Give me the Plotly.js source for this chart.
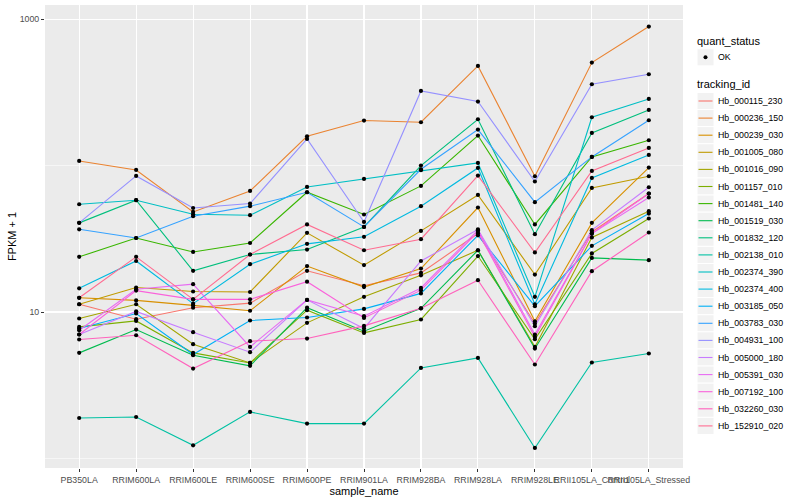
<!DOCTYPE html>
<html><head><meta charset="utf-8">
<script src="https://cdn.plot.ly/plotly-3.0.1.min.js"></script>
<style>html,body{margin:0;padding:0;background:#fff}#chart{width:800px;height:500px}</style>
</head><body><div id="chart"></div>
<script>
// ---- data ----
const samples = ["PB350LA","RRIM600LA","RRIM600LE","RRIM600SE","RRIM600PE","RRIM901LA","RRIM928BA","RRIM928LA","RRIM928LE","RRII105LA_Control","RRII105LA_Stressed"];
const trackingIds = ["Hb_000115_230","Hb_000236_150","Hb_000239_030","Hb_001005_080","Hb_001016_090","Hb_001157_010","Hb_001481_140","Hb_001519_030","Hb_001832_120","Hb_002138_010","Hb_002374_390","Hb_002374_400","Hb_003185_050","Hb_003783_030","Hb_004931_100","Hb_005000_180","Hb_005391_030","Hb_007192_100","Hb_032260_030","Hb_152910_020"];
const colors = ["#F8766D","#EA8331","#D89000","#C09B00","#A3A500","#7CAE00","#39B600","#00BB4E","#00BF7D","#00C1A3","#00BFC4","#00BAE0","#00B0F6","#35A2FF","#9590FF","#C77CFF","#E76BF3","#FA62DB","#FF62BC","#FF6C91"];
const quantStatus = ["OK"];

// FPKM + 1 per sample
const Hb_000115_230 = [11.3, 8.93, 10.7, 11.5, 19.1, 15.1, 18.5, 34.3, 8.35, 35.2, 64.4];
const Hb_000236_150 = [107.5, 93.3, 48.2, 67.1, 158.5, 202.9, 197.5, 478.5, 84.5, 504.9, 888.9];
const Hb_000239_030 = [12.5, 12.0, 11.1, 10.2, 20.6, 14.8, 19.8, 51.7, 8.65, 40.6, 96.9];
const Hb_001005_080 = [11.3, 14.7, 13.8, 13.7, 34.7, 20.9, 35.8, 63.0, 18.0, 70.3, 84.5];
const Hb_001016_090 = [9.03, 11.3, 6.03, 4.49, 8.43, 12.7, 17.8, 26.4, 5.78, 32.3, 48.8];
const Hb_001157_010 = [7.91, 8.69, 5.26, 4.49, 10.3, 7.20, 8.89, 24.1, 6.52, 25.1, 43.5];
const Hb_001481_140 = [23.8, 32.0, 25.7, 29.6, 65.7, 46.3, 72.6, 160.2, 39.6, 114.5, 148.8];
const Hb_001519_030 = [5.26, 7.59, 5.07, 4.29, 10.7, 7.39, 10.6, 26.4, 5.63, 23.4, 22.6];
const Hb_001832_120 = [40.6, 58.0, 19.1, 24.7, 26.7, 38.1, 100.0, 207.0, 34.0, 167.0, 239.6];
const Hb_002138_010 = [1.89, 1.92, 1.23, 2.08, 1.73, 1.73, 4.15, 4.86, 1.18, 4.52, 5.21];
const Hb_002374_390 = [54.4, 58.0, 46.5, 45.8, 71.4, 81.0, 92.9, 104.2, 12.7, 213.6, 284.8];
const Hb_002374_400 = [14.5, 22.3, 11.4, 21.2, 29.2, 32.6, 52.8, 96.3, 11.3, 82.3, 118.1];
const Hb_003185_050 = [7.72, 9.77, 5.13, 8.75, 9.17, 10.5, 13.4, 33.4, 10.96, 28.3, 47.0];
const Hb_003783_030 = [36.7, 32.0, 45.1, 52.8, 65.7, 38.1, 94.3, 176.1, 56.2, 114.5, 203.8];
const Hb_004931_100 = [40.6, 84.9, 51.3, 55.0, 151.9, 41.2, 323.1, 273.4, 77.8, 358.9, 420.1];
const Hb_005000_180 = [7.02, 10.1, 7.28, 5.32, 12.1, 7.72, 22.3, 36.6, 8.00, 36.2, 71.1];
const Hb_005391_030 = [7.51, 14.3, 15.5, 5.78, 12.1, 9.36, 14.6, 36.2, 7.02, 34.3, 60.5];
const Hb_007192_100 = [7.02, 14.0, 12.2, 12.2, 16.1, 9.11, 14.1, 35.2, 6.76, 34.3, 64.4];
const Hb_032260_030 = [6.49, 6.94, 4.11, 6.32, 6.59, 8.04, 10.6, 16.5, 4.38, 19.0, 34.9];
const Hb_152910_020 = [12.5, 23.8, 12.2, 24.7, 39.6, 26.4, 31.4, 85.4, 25.5, 91.9, 131.9];

const seriesValues = [Hb_000115_230,Hb_000236_150,Hb_000239_030,Hb_001005_080,Hb_001016_090,Hb_001157_010,Hb_001481_140,Hb_001519_030,Hb_001832_120,Hb_002138_010,Hb_002374_390,Hb_002374_400,Hb_003185_050,Hb_003783_030,Hb_004931_100,Hb_005000_180,Hb_005391_030,Hb_007192_100,Hb_032260_030,Hb_152910_020];

const yTickVals = [10, 1000];
const yTickText = ["10", "1000"];
const yMinorVals = [1, 100];

// ---- traces ----
const FONT = "Liberation Sans, Arial, Helvetica, sans-serif";
const traces = [];
seriesValues.forEach((vals, i) => {
  traces.push({type:"scatter", mode:"lines", x:samples, y:vals, name:trackingIds[i],
    line:{color:colors[i], width:1.1}, showlegend:false, hoverinfo:"skip"});
});
seriesValues.forEach((vals, i) => {
  traces.push({type:"scatter", mode:"markers", x:samples, y:vals, name:quantStatus[0],
    marker:{color:"#000", size:4.2}, showlegend:false, hoverinfo:"skip"});
});

// ---- manual ggplot-style legend (paper coords) ----
const L = 45, R = 683, T = 5, B = 468;
const px = v => (v - L) / (R - L);
const py = v => (B - v) / (B - T);
const shapes = [], annotations = [];
const keyX0 = 697, keyX1 = 714, labelX = 717, keyH = 17.1;
function keyBox(cy){
  shapes.push({type:"rect", xref:"paper", yref:"paper", x0:px(keyX0), x1:px(keyX1),
    y0:py(cy - keyH/2), y1:py(cy + keyH/2), fillcolor:"#F2F2F2", line:{color:"#FFFFFF", width:1}, layer:"above"});
}
function label(text, x, y, size){
  annotations.push({text:text, xref:"paper", yref:"paper", x:px(x), y:py(y), xanchor:"left", yanchor:"middle",
    showarrow:false, borderpad:0, font:{family:FONT, size:size, color:"#000"}});
}
label("quant_status", 696, 40.7, 11);
keyBox(57.3);
shapes.push({type:"circle", xref:"paper", yref:"paper", x0:px(705.5-2), x1:px(705.5+2), y0:py(57.3+2), y1:py(57.3-2),
  fillcolor:"#000", line:{width:0}, layer:"above"});
label(quantStatus[0], labelX, 57.3, 8.8);
label("tracking_id", 696, 84.3, 11);
trackingIds.forEach((id, i) => {
  const cy = 101 + i * 17.1;
  keyBox(cy);
  shapes.push({type:"line", xref:"paper", yref:"paper", x0:px(698.5), x1:px(712.5), y0:py(cy), y1:py(cy),
    line:{color:colors[i], width:1.1}, layer:"above"});
  label(id, labelX, cy, 8.8);
});

const layout = {
  width:800, height:500,
  margin:{l:L, r:800-R, t:T, b:500-B, pad:0},
  paper_bgcolor:"#FFFFFF", plot_bgcolor:"#EBEBEB",
  font:{family:FONT, size:8.8, color:"#4D4D4D"},
  showlegend:false,
  xaxis:{type:"category", categoryorder:"array", categoryarray:samples, range:[-0.6, 10.6],
    showgrid:true, gridcolor:"#FFFFFF", gridwidth:1.1, zeroline:false, showline:false,
    ticks:"outside", ticklen:3, tickwidth:1, tickcolor:"#333333", tickangle:0,
    tickfont:{family:FONT, size:8.8, color:"#4D4D4D"}, automargin:false,
    title:{text:"sample_name", font:{family:FONT, size:11, color:"#000"}, standoff:0}},
  yaxis:{type:"log", range:[-0.065, 3.096], tickmode:"array", tickvals:yTickVals, ticktext:yTickText,
    showgrid:true, gridcolor:"#FFFFFF", gridwidth:1.1, zeroline:false, showline:false,
    ticks:"outside", ticklen:3, tickwidth:1, tickcolor:"#333333",
    tickfont:{family:FONT, size:8.8, color:"#4D4D4D"}, automargin:false,
    minor:{tickmode:"array", tickvals:yMinorVals, showgrid:true, gridcolor:"#FFFFFF", gridwidth:0.55, ticks:""},
    title:{text:"FPKM + 1", font:{family:FONT, size:11, color:"#000"}, standoff:0}},
  shapes:shapes, annotations:annotations
};
Plotly.newPlot("chart", traces, layout, {staticPlot:true, displayModeBar:false});
</script></body></html>
